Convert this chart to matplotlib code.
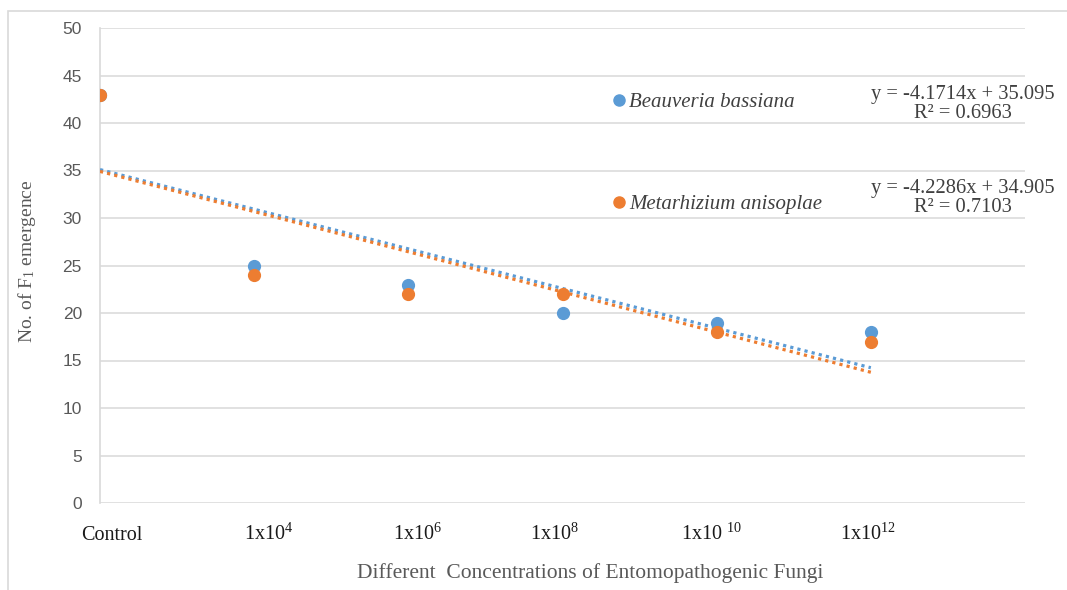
import numpy as np
import matplotlib
matplotlib.use("Agg")
import matplotlib.pyplot as plt
from matplotlib.lines import Line2D
from matplotlib.patches import Rectangle
import matplotlib.transforms as mtransforms

plt.rcParams['mathtext.fontset'] = 'custom'
plt.rcParams['mathtext.rm'] = 'Liberation Serif'
plt.rcParams['mathtext.it'] = 'Liberation Serif:italic'

# ---- data ----
categories = ["Control", r"1x10$^{\mathrm{4}}$", r"1x10$^{\mathrm{6}}$",
              r"1x10$^{\mathrm{8}}$", r"1x10 $^{\mathrm{10}}$", r"1x10$^{\mathrm{12}}$"]
x_vals = [0, 1, 2, 3, 4, 5]
beauveria = [43, 25, 23, 20, 19, 18]
metarhizium = [43, 24, 22, 22, 18, 17]
series_names = ["Beauveria bassiana", "Metarhizium anisoplae"]
equations = ["y = -4.1714x + 35.095\nR² = 0.6963",
             "y = -4.2286x + 34.905\nR² = 0.7103"]
y_ticks = [0, 5, 10, 15, 20, 25, 30, 35, 40, 45, 50]

# layout: horizontal nudges (pixels) of the category labels, as in the original
label_nudge_px = [12, 14, 9, -8, -5, -3]

blue = "#5B9BD5"
orange = "#ED7D31"
grid_c = "#D9D9D9"

fig = plt.figure(figsize=(10.67, 5.9), dpi=100)
ax = fig.add_axes([100/1067, 1-503/590, 925/1067, 475/590])

# outer frame
fig.patches.append(Rectangle((8/1067, -0.2), 1.2, 1.2 - 11/590,
                             transform=fig.transFigure, fill=False,
                             edgecolor=grid_c, linewidth=1.2))

x = np.array(x_vals, dtype=float)
# trendlines (linear fits of each series)
for ys, c in [(beauveria, blue), (metarhizium, orange)]:
    m, b = np.polyfit(x, np.array(ys, dtype=float), 1)
    ax.plot(x, m*x + b, linestyle=(0, (1, 1.3)), color=c, linewidth=2.3,
            zorder=3)

ax.plot(x, beauveria, 'o', color=blue, markersize=8.5, zorder=4)
ax.plot(x, metarhizium, 'o', color=orange, markersize=8.5, zorder=5)

ax.set_xlim(0, 6)
ax.set_ylim(0, 50)
ax.set_yticks(y_ticks)
ax.set_yticklabels([str(v) for v in y_ticks], fontsize=12.5,
                   family="Liberation Sans", color="#595959")
ax.set_xticks(x_vals)
ax.set_xticklabels([])
ax.tick_params(axis='y', length=0, pad=13)
ax.tick_params(axis='x', length=0)

# category labels on a common baseline
for xv, lab, dx in zip(x_vals, categories, label_nudge_px):
    tr = ax.get_xaxis_transform() + mtransforms.ScaledTranslation(
        dx/100, -37/100, fig.dpi_scale_trans)
    ax.text(xv, 0, lab, transform=tr, ha='center', va='baseline',
            fontsize=14.5, family="Liberation Serif", color="#1a1a1a")

ax.grid(axis='y', color=grid_c, linewidth=1.1)
ax.set_axisbelow(True)
for s in ['top', 'right', 'bottom']:
    ax.spines[s].set_visible(False)
ax.spines['left'].set_color(grid_c)
ax.spines['left'].set_linewidth(1.2)

ax.set_ylabel(r"No. of F$_{\mathrm{1}}$ emergence", family="Liberation Serif",
              fontsize=14, color="#595959")
ax.yaxis.set_label_coords(-0.067, 0.51)
ax.set_xlabel("Different  Concentrations of Entomopathogenic Fungi",
              family="Liberation Serif", fontsize=15.5, color="#595959")
ax.xaxis.label.set_va('center')
ax.xaxis.set_label_coords(0.53, -0.147)

handles = [Line2D([], [], marker='o', color=blue, linestyle='none', markersize=8),
           Line2D([], [], marker='o', color=orange, linestyle='none', markersize=8)]
leg = ax.legend(handles, series_names, loc='upper left',
                bbox_to_anchor=(603/1067, 1-82/590), bbox_transform=fig.transFigure,
                frameon=False, handlelength=0.5, handletextpad=0.25,
                labelspacing=3.95, borderpad=0,
                prop={'family': 'Liberation Serif', 'style': 'italic', 'size': 15})
for t in leg.get_texts():
    t.set_color("#404040")

fig.text(963/1067, 1-104/590, equations[0], ha='center', va='center',
         multialignment='center', family='Liberation Serif', fontsize=14.8,
         color="#404040", linespacing=1.0)
fig.text(963/1067, 1-198/590, equations[1], ha='center', va='center',
         multialignment='center', family='Liberation Serif', fontsize=14.8,
         color="#404040", linespacing=1.0)

fig.savefig("out.png", dpi=100)
